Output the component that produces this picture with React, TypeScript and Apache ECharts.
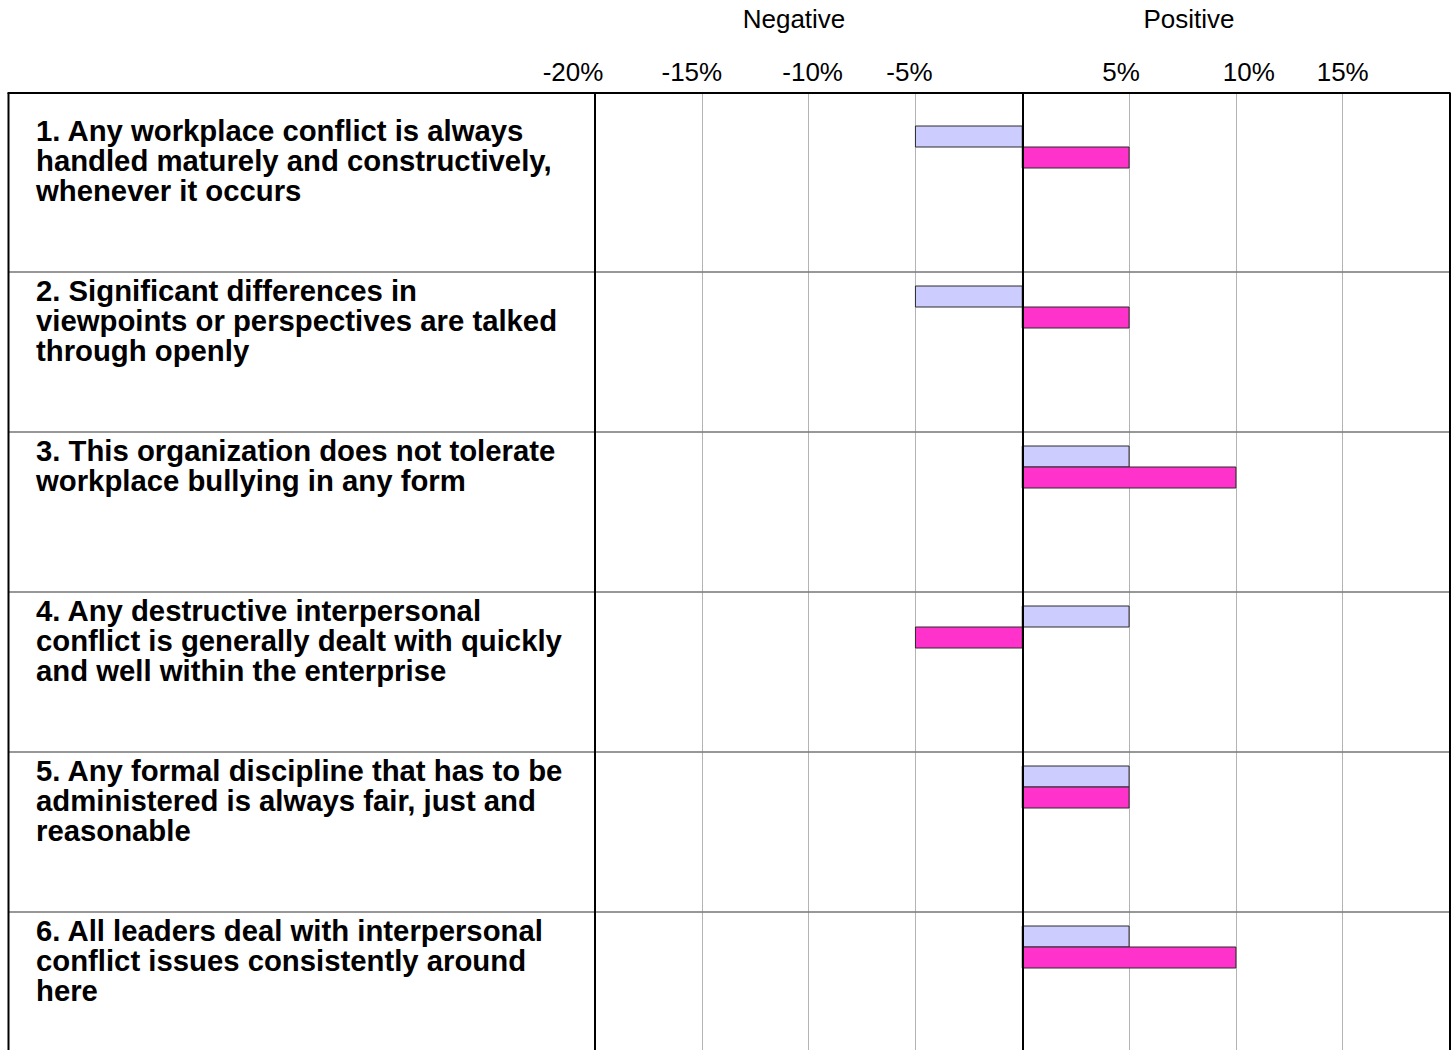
import React, { useEffect, useRef } from "react";
import * as echarts from "echarts";

// Survey statements, one row each
const questions = [
  "1. Any workplace conflict is always\nhandled maturely and constructively,\nwhenever it occurs",
  "2. Significant differences in\nviewpoints or perspectives are talked\nthrough openly",
  "3. This organization does not tolerate\nworkplace bullying in any form",
  "4. Any destructive interpersonal\nconflict is generally dealt with quickly\nand well within the enterprise",
  "5. Any formal discipline that has to be\nadministered is always fair, just and\nreasonable",
  "6. All leaders deal with interpersonal\nconflict issues consistently around\nhere",
];

// Net score (%) per statement for the two groups
const groupA = [-5, -5, 5, 5, 5, 5];
const groupB = [5, 5, 10, -5, 5, 10];

// Axis settings
const xMin = -20;
const xMax = 20;
const xStep = 5;
const unlabelledTicks = [0, 20];
const boldLines = [-20, 0, 20];
const sideTitles = ["Negative", "Positive"];

// Layout (pixels)
const W = 1454;
const H = 1050;
const FONT = '"Liberation Sans", Arial, Helvetica, sans-serif';
const FRAME_LEFT = 8.5;
const GRID_LEFT = 595;
const GRID_RIGHT_EDGE = 1449.5;
const GRID_TOP = 93;
const ROW_PX = 160;
const HEADER_PX = 19;
// bar placement inside a row, in row units
const BAR_OFFSET = 14 / ROW_PX;
const BAR_THICK = 21 / ROW_PX;
// horizontal shift (px) of each tick label relative to its tick
const tickLabelShift: Record<number, number> = {
  [-20]: -22,
  [-15]: -10,
  [-10]: 4,
  [-5]: -6,
  [5]: -8,
  [10]: 13,
  [15]: 0,
};

const COLORS = ["#ccccff", "#ff33cc"];

function tickRich() {
  const rich: Record<string, any> = {};
  Object.keys(tickLabelShift).forEach((k, i) => {
    const d = tickLabelShift[Number(k)];
    rich[`t${i}`] = {
      fontSize: 26,
      fontFamily: FONT,
      color: "#000",
      padding: d < 0 ? [0, -2 * d, 0, 0] : [0, 0, 0, 2 * d],
    };
  });
  return rich;
}

function tickFormatter(v: number) {
  if (unlabelledTicks.includes(v)) return "";
  const idx = Object.keys(tickLabelShift).findIndex((k) => Number(k) === v);
  const text = `${v}%`;
  return idx >= 0 ? `{t${idx}|${text}}` : text;
}

function barRenderer(slot: number, color: string) {
  return (_params: any, api: any) => {
    const row = api.value(0);
    const v = api.value(1);
    const y0 = row + BAR_OFFSET + slot * BAR_THICK;
    const p0 = api.coord([0, y0]);
    const p1 = api.coord([v, y0 + BAR_THICK]);
    return {
      type: "rect",
      shape: {
        x: Math.min(p0[0], p1[0]),
        y: p0[1],
        width: Math.abs(p1[0] - p0[0]),
        height: p1[1] - p0[1],
      },
      style: { fill: color, stroke: "#2a2a2a", lineWidth: 1 },
    };
  };
}

function rowRenderer(params: any, api: any) {
  const row = api.value(0);
  const top = api.coord([0, row])[1];
  const cs = params.coordSys;
  const children: any[] = [];
  if (row > 0) {
    children.push({
      type: "line",
      shape: { x1: FRAME_LEFT, y1: top, x2: cs.x + cs.width, y2: top },
      style: { stroke: "#767676", lineWidth: 1.5 },
    });
  }
  children.push({
    type: "text",
    x: 36,
    y: top + 3,
    style: {
      text: questions[row],
      fontFamily: FONT,
      fontWeight: "bold",
      fontSize: 29.3,
      lineHeight: 30,
      fill: "#000",
      align: "left",
      verticalAlign: "top",
    },
  });
  return { type: "group", children };
}

export default function App() {
  const ref = useRef<HTMLDivElement>(null);

  useEffect(() => {
    document.body.style.margin = "0";
    if (!ref.current) return;
    const chart = echarts.init(ref.current, undefined, { renderer: "svg" });
    const yMin = -HEADER_PX / ROW_PX;

    chart.setOption({
      animation: false,
      textStyle: { fontFamily: FONT },
      grid: {
        left: GRID_LEFT,
        right: W - GRID_RIGHT_EDGE,
        top: GRID_TOP,
        height: (questions.length - yMin) * ROW_PX,
        outerBoundsMode: "none",
        containLabel: false,
      },
      xAxis: {
        type: "value",
        min: xMin,
        max: xMax,
        interval: xStep,
        position: "top",
        axisLine: { show: false },
        axisTick: { show: false },
        axisLabel: {
          showMinLabel: true,
          showMaxLabel: true,
          hideOverlap: false,
          fontSize: 26,
          fontFamily: FONT,
          color: "#000",
          margin: 8,
          formatter: tickFormatter,
          rich: tickRich(),
        },
        splitLine: { show: true, lineStyle: { color: "#b4b4b4", width: 1 } },
      },
      yAxis: {
        type: "value",
        inverse: true,
        min: yMin,
        max: questions.length,
        show: false,
      },
      graphic: [
        {
          type: "line",
          shape: { x1: FRAME_LEFT - 1, y1: GRID_TOP, x2: GRID_RIGHT_EDGE + 1, y2: GRID_TOP },
          style: { stroke: "#000", lineWidth: 2 },
          z: 10,
        },
        {
          type: "line",
          shape: { x1: FRAME_LEFT, y1: GRID_TOP, x2: FRAME_LEFT, y2: H + 10 },
          style: { stroke: "#000", lineWidth: 2 },
          z: 10,
        },
        {
          type: "text",
          x: 794,
          y: 19,
          style: {
            text: sideTitles[0],
            fontFamily: FONT,
            fontSize: 26,
            fill: "#000",
            align: "center",
            verticalAlign: "middle",
          },
        },
        {
          type: "text",
          x: 1189,
          y: 19,
          style: {
            text: sideTitles[1],
            fontFamily: FONT,
            fontSize: 26,
            fill: "#000",
            align: "center",
            verticalAlign: "middle",
          },
        },
      ],
      series: [
        {
          type: "custom",
          name: "Rows",
          renderItem: rowRenderer,
          data: questions.map((_q, i) => [i, 0]),
          encode: { y: 0, x: 1 },
          silent: true,
          z: 1,
        },
        {
          type: "custom",
          name: "Group A",
          renderItem: barRenderer(0, COLORS[0]),
          data: groupA.map((v, i) => [i, v]),
          encode: { y: 0, x: 1 },
          z: 2,
        },
        {
          type: "custom",
          name: "Group B",
          renderItem: barRenderer(1, COLORS[1]),
          data: groupB.map((v, i) => [i, v]),
          encode: { y: 0, x: 1 },
          z: 2,
          markLine: {
            silent: true,
            symbol: "none",
            label: { show: false },
            lineStyle: { color: "#000", width: 2, type: "solid" },
            data: boldLines.map((x) => ({ xAxis: x })),
          },
        },
      ],
    });

    return () => chart.dispose();
  }, []);

  return <div ref={ref} style={{ width: W, height: H }} />;
}
